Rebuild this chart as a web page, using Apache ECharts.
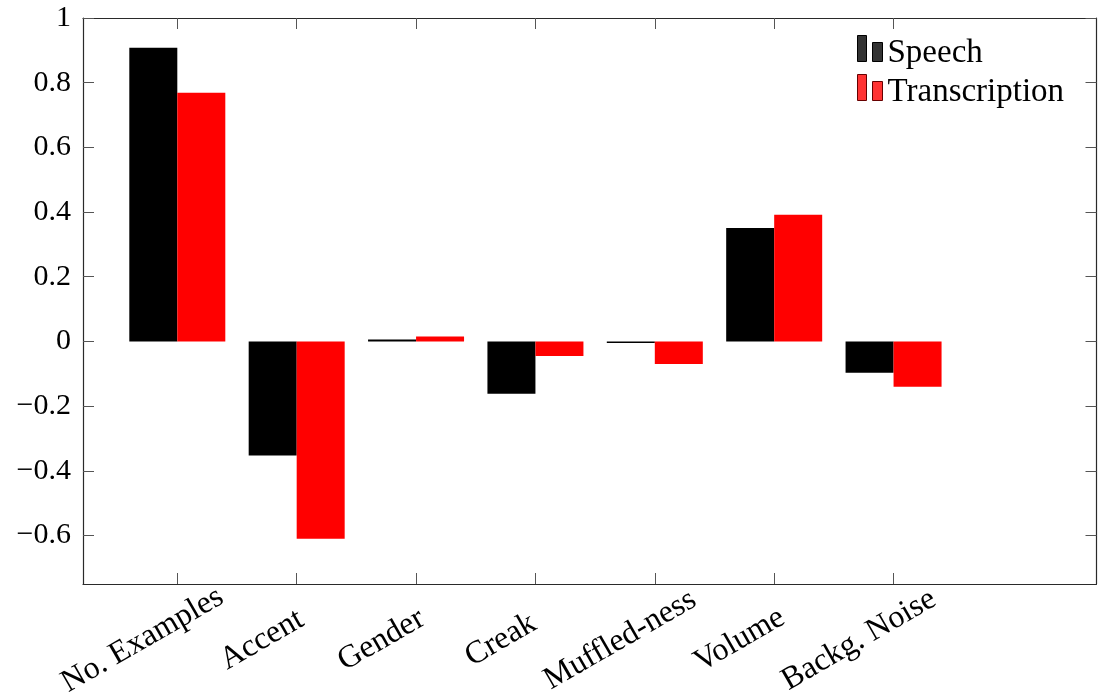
<!DOCTYPE html>
<html>
<head>
<meta charset="utf-8">
<title>Speech vs Transcription</title>
<script src="https://cdn.jsdelivr.net/npm/echarts@6/dist/echarts.min.js"></script>
<style>
  html, body { margin: 0; padding: 0; background: #fff; }
  #chart { width: 1105px; height: 696px; }
</style>
</head>
<body>
<div id="chart"></div>
<script>
// Feature labels along the x axis (placed at positions 1..7)
const categories = ['No. Examples', 'Accent', 'Gender', 'Creak', 'Muffled-ness', 'Volume', 'Backg. Noise'];
// Correlation values per feature
const speech = [0.908, -0.353, 0.006, -0.162, -0.005, 0.351, -0.097];
const transcription = [0.769, -0.610, 0.015, -0.045, -0.070, 0.392, -0.140];
// Tick values for the y axis
const yTicks = [-0.6, -0.4, -0.2, 0, 0.2, 0.4, 0.6, 0.8, 1];
const xTicks = categories.map((_, i) => i + 1);

const FONT = 'Liberation Serif';
const X_MIN = 0.21, X_MAX = 8.7, Y_MIN = -0.75, Y_MAX = 1;

function fmtY(v) {
  const r = Math.round(v * 10) / 10;
  if (r === 0) return '0';
  const s = String(Math.abs(r));
  return (r < 0 ? '\u2212' : '') + s;
}

const frameLine = { show: true, onZero: false, lineStyle: { color: '#2a2a2a', width: 1.2 } };
const tickStyle = { color: '#555', width: 1 };

// Legend glyph: two small bars; the trailing move-to extends the symbol box
// downward so the bars sit slightly above the text's centre line.
const legendIcon = 'path://M0,0H9V26H0Z M15,7H25V26H15Z M0,36';

const chart = echarts.init(document.getElementById('chart'), null, { renderer: 'canvas' });
chart.setOption({
  animation: false,
  backgroundColor: '#fff',
  grid: { left: 83, top: 18, width: 1013.5, height: 566, containLabel: false, outerBoundsMode: 'none' },
  legend: {
    orient: 'vertical',
    left: 857,
    top: 35,
    padding: 0,
    itemWidth: 25,
    itemHeight: 36,
    itemGap: 2,
    icon: legendIcon,
    textStyle: { fontFamily: FONT, fontSize: 33, color: '#000', lineHeight: 30 },
    data: [
      { name: 'Speech', itemStyle: { color: '#333', borderColor: '#000', borderWidth: 1 } },
      { name: 'Transcription', itemStyle: { color: '#ff3333', borderColor: '#600', borderWidth: 1 } }
    ]
  },
  xAxis: [
    {
      type: 'value', position: 'bottom', min: X_MIN, max: X_MAX,
      axisLine: frameLine,
      splitLine: { show: false },
      axisTick: { show: true, inside: true, length: 11, customValues: xTicks, lineStyle: tickStyle },
      axisLabel: {
        show: true,
        customValues: xTicks,
        rotate: 30,
        align: 'center',
        verticalAlign: 'middle',
        margin: 36,
        padding: [0, 80, 0, 0],
        hideOverlap: false,
        fontFamily: FONT,
        fontSize: 32,
        color: '#000',
        formatter: v => categories[Math.round(v) - 1] || ''
      }
    },
    {
      type: 'value', position: 'top', min: X_MIN, max: X_MAX,
      axisLine: frameLine,
      splitLine: { show: false },
      axisTick: { show: true, inside: true, length: 11, customValues: xTicks, lineStyle: tickStyle },
      axisLabel: { show: false }
    }
  ],
  yAxis: [
    {
      type: 'value', position: 'left', min: Y_MIN, max: Y_MAX,
      axisLine: frameLine,
      splitLine: { show: false },
      axisTick: { show: true, inside: true, length: 11, customValues: yTicks, lineStyle: tickStyle },
      axisLabel: {
        show: true, customValues: yTicks, margin: 12,
        fontFamily: FONT, fontSize: 30, color: '#000',
        formatter: fmtY
      }
    },
    {
      type: 'value', position: 'right', min: Y_MIN, max: Y_MAX,
      axisLine: frameLine,
      splitLine: { show: false },
      axisTick: { show: true, inside: true, length: 11, customValues: yTicks, lineStyle: tickStyle },
      axisLabel: { show: false }
    }
  ],
  series: [
    {
      name: 'Speech', type: 'bar', xAxisIndex: 0, yAxisIndex: 0,
      barWidth: 48, barGap: '0%',
      itemStyle: { color: '#000' },
      data: speech.map((v, i) => [xTicks[i], v])
    },
    {
      name: 'Transcription', type: 'bar', xAxisIndex: 0, yAxisIndex: 0,
      barWidth: 48, barGap: '0%',
      itemStyle: { color: '#ff0000' },
      data: transcription.map((v, i) => [xTicks[i], v])
    }
  ]
});
</script>
</body>
</html>
